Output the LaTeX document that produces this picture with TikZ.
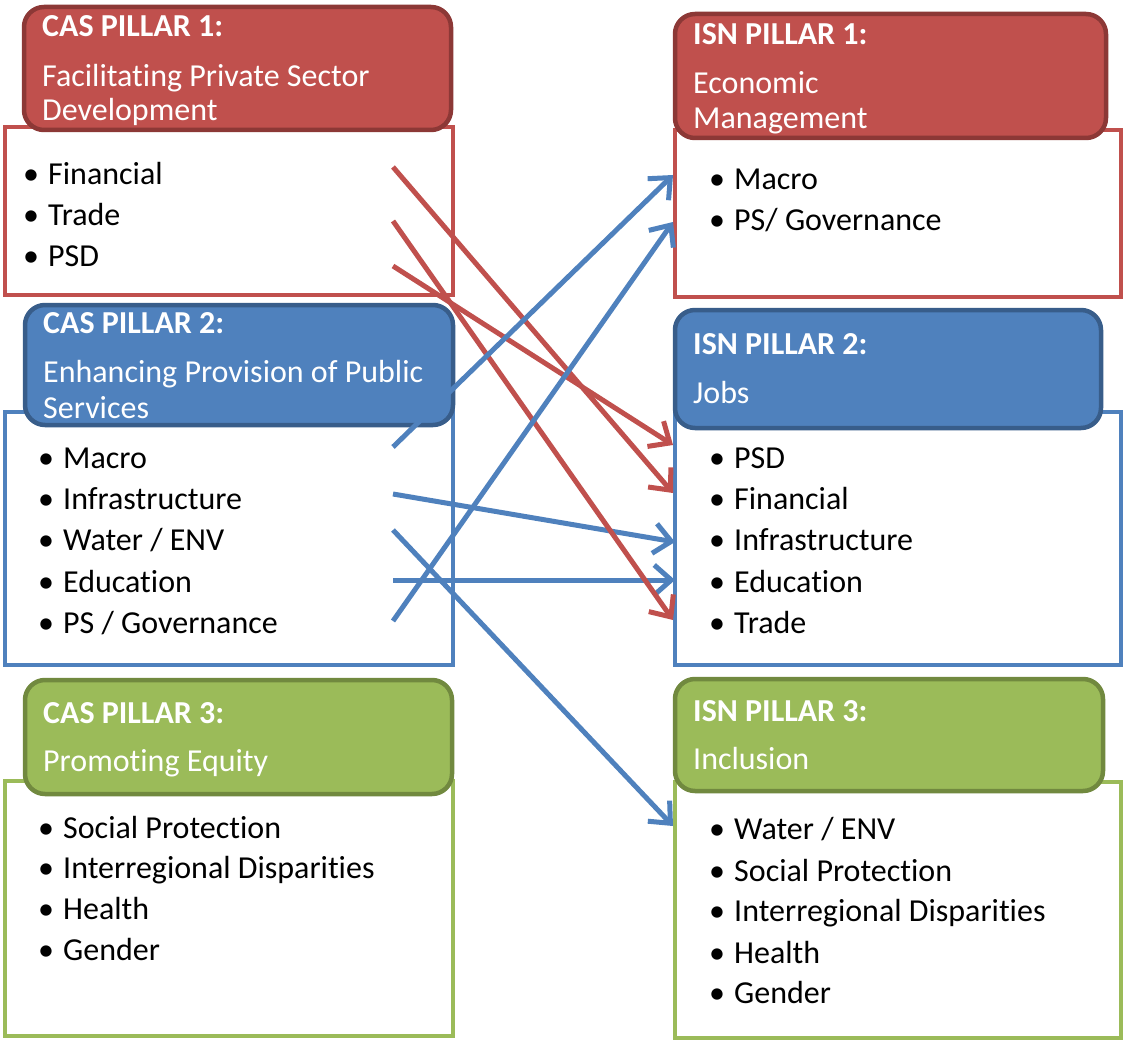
\documentclass[tikz,border=0pt]{standalone}
\usepackage{fontspec}
\setmainfont{Carlito}[Ligatures=NoCommon]
\usetikzlibrary{arrows.meta}

\definecolor{redF}{HTML}{C0504D}
\definecolor{redD}{HTML}{8C3836}
\definecolor{bluF}{HTML}{4F81BD}
\definecolor{bluD}{HTML}{385D8A}
\definecolor{grnF}{HTML}{9BBB59}
\definecolor{grnD}{HTML}{71893F}

% bullet hung 17pt left of the item text
\newcommand\bul{\llap{\makebox[34pt][c]{•}}}

\begin{document}
\begin{tikzpicture}[x=1pt,y=-1pt,
  bodybox/.style={draw, line width=4pt, fill=white, inner sep=0pt, rectangle},
  headbox/.style={draw, line width=4.5pt, rounded corners=20pt, inner sep=0pt, rectangle},
  txt/.style={anchor=base west, inner sep=0pt, yshift=-1.5pt, font=\fontsize{32}{38}\selectfont},
  title/.style={txt, text=white, font=\fontsize{32}{38}\selectfont\bfseries},
  sub/.style={txt, text=white},
  itm/.style={txt, text=black},
  link/.style={line width=5pt, -{Straight Barb[length=17pt,width=30pt]}},
]
\useasboundingbox (0,0) rectangle (1125,1043);

% ---------- CAS column ----------
\node[bodybox, draw=redF, minimum width=448pt, minimum height=168pt] (cas1body) at (229,211) {};
\node[headbox, draw=redD, fill=redF, minimum width=427pt, minimum height=123pt] (cas1head) at (237.5,68.5) {};
\node[title] (cas1t) at (42,35) {CAS PILLAR 1:};
\node[sub] (cas1s1) at (42,85) {Facilitating Private Sector};
\node[sub] (cas1s2) at (42,119) {Development};
\node[itm] (c1fin) at (48,183) {\bul Financial};
\node[itm] (c1trd) at (48,224) {\bul Trade};
\node[itm] (c1psd) at (48,265) {\bul PSD};

\node[bodybox, draw=bluF, minimum width=448pt, minimum height=253pt] (cas2body) at (229,538.5) {};
\node[headbox, draw=bluD, fill=bluF, minimum width=428pt, minimum height=120pt] (cas2head) at (239,365) {};
\node[title] (cas2t) at (43,332) {CAS PILLAR 2:};
\node[sub] (cas2s1) at (43,381) {Enhancing Provision of Public};
\node[sub] (cas2s2) at (43,417) {Services};
\node[itm] (c2mac) at (63,467) {\bul Macro};
\node[itm] (c2inf) at (63,508) {\bul Infrastructure};
\node[itm] (c2wat) at (63,549) {\bul Water / ENV};
\node[itm] (c2edu) at (63,591) {\bul Education};
\node[itm] (c2gov) at (63,632) {\bul PS / Governance};

\node[bodybox, draw=grnF, minimum width=448pt, minimum height=255pt] (cas3body) at (229,908.5) {};
\node[headbox, draw=grnD, fill=grnF, minimum width=427pt, minimum height=114pt] (cas3head) at (238.5,737) {};
\node[title] (cas3t) at (43,722) {CAS PILLAR 3:};
\node[sub] (cas3s1) at (43,770) {Promoting Equity};
\node[itm] (c3soc) at (63,837) {\bul Social Protection};
\node[itm] (c3reg) at (63,877) {\bul Interregional Disparities};
\node[itm] (c3hea) at (63,918) {\bul Health};
\node[itm] (c3gen) at (63,959) {\bul Gender};

% ---------- ISN column ----------
\node[bodybox, draw=redF, minimum width=446pt, minimum height=167pt] (isn1body) at (898,213.5) {};
\node[headbox, draw=redD, fill=redF, minimum width=431pt, minimum height=124pt] (isn1head) at (890.5,76) {};
\node[title] (isn1t) at (693,43) {ISN PILLAR 1:};
\node[sub] (isn1s1) at (693,92) {Economic};
\node[sub] (isn1s2) at (693,127) {Management};
\node[itm] (i1mac) at (734,188) {\bul Macro};
\node[itm] (i1gov) at (734,229) {\bul PS/ Governance};

\node[bodybox, draw=bluF, minimum width=446pt, minimum height=253pt] (isn2body) at (898,538.5) {};
\node[headbox, draw=bluD, fill=bluF, minimum width=426pt, minimum height=118pt] (isn2head) at (888,369) {};
\node[title] (isn2t) at (693,353) {ISN PILLAR 2:};
\node[sub] (isn2s1) at (693,402) {Jobs};
\node[itm] (i2psd) at (734,467) {\bul PSD};
\node[itm] (i2fin) at (734,508) {\bul Financial};
\node[itm] (i2inf) at (734,549) {\bul Infrastructure};
\node[itm] (i2edu) at (734,591) {\bul Education};
\node[itm] (i2trd) at (734,632) {\bul Trade};

\node[bodybox, draw=grnF, minimum width=446pt, minimum height=256pt] (isn3body) at (898,910) {};
\node[headbox, draw=grnD, fill=grnF, minimum width=428pt, minimum height=112pt] (isn3head) at (889,735) {};
\node[title] (isn3t) at (693,720) {ISN PILLAR 3:};
\node[sub] (isn3s1) at (693,768) {Inclusion};
\node[itm] (i3wat) at (734,838) {\bul Water / ENV};
\node[itm] (i3soc) at (734,880) {\bul Social Protection};
\node[itm] (i3reg) at (734,920) {\bul Interregional Disparities};
\node[itm] (i3hea) at (734,962) {\bul Health};
\node[itm] (i3gen) at (734,1002) {\bul Gender};

% ---------- connector ends ----------
\coordinate (fromFin) at (393,167);
\coordinate (fromTrd) at (393,221);
\coordinate (fromPsd) at (393,266);
\coordinate (fromMac) at (393,447);
\coordinate (fromInf) at (393,494);
\coordinate (fromWat) at (393,530);
\coordinate (fromEdu) at (393,580);
\coordinate (fromGov) at (393,621);

\coordinate (toMac)  at (673,175);
\coordinate (toGov)  at (673,222);
\coordinate (toPsd)  at (673,445);
\coordinate (toFin)  at (673,493);
\coordinate (toInf)  at (675,542);
\coordinate (toEdu)  at (675,580);
\coordinate (toTrd)  at (673,620);
\coordinate (toWat)  at (673,826);

% ---------- connectors ----------
\draw[link, draw=bluF] (fromInf) -- (toInf);
\draw[link, draw=bluF] (fromEdu) -- (toEdu);
\draw[link, draw=redF] (fromFin) -- (toFin);
\draw[link, draw=redF] (fromTrd) -- (toTrd);
\draw[link, draw=redF] (fromPsd) -- (toPsd);
\draw[link, draw=bluF] (fromMac) -- (toMac);
\draw[link, draw=bluF] (fromGov) -- (toGov);
\draw[link, draw=bluF] (fromWat) -- (toWat);
\end{tikzpicture}
\end{document}
